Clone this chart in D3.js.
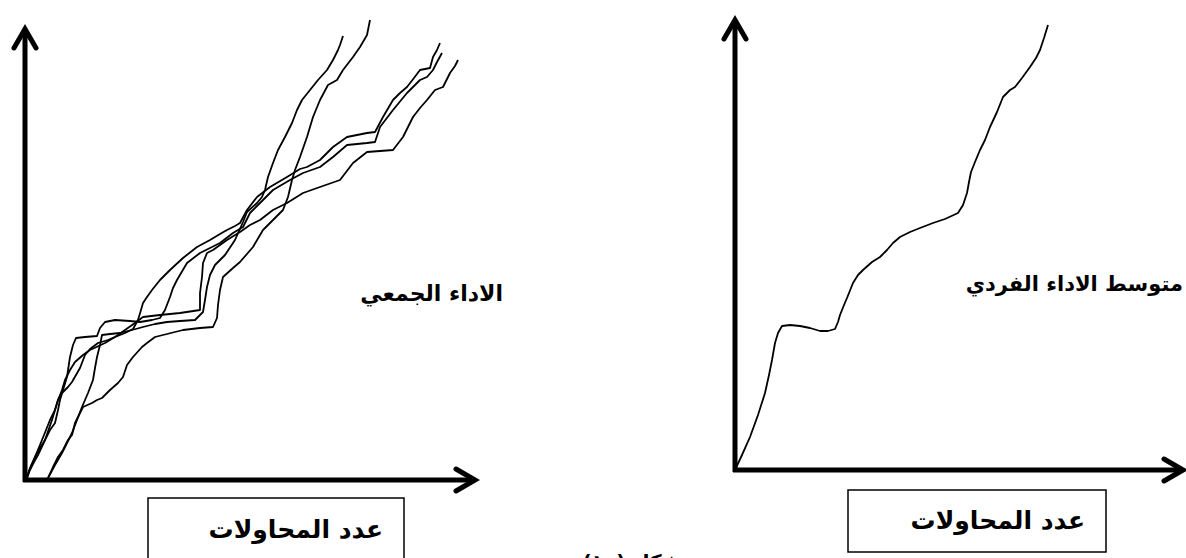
<!DOCTYPE html>
<html lang="ar">
<head>
<meta charset="utf-8">
<script src="https://cdn.jsdelivr.net/npm/d3@7/dist/d3.min.js"></script>
<style>
  html, body { margin: 0; padding: 0; background: #fff; }
  svg { display: block; }
  text { font-family: "DejaVu Sans", sans-serif; font-weight: bold; fill: #000; }
</style>
</head>
<body>
<svg id="chart" width="1186" height="558"></svg>
<script>
// ---- Data (arbitrary units: trials on x, performance on y) ----
const groupTitle = "الاداء الجمعي";
const individualTitle = "متوسط الاداء الفردي";
const xAxisLabel = "عدد المحاولات";
const figureCaption = "شكل (١٠)";

// Left panel: five individual learners' curves (group performance)
const groupSeriesA = [[23,2],[28,13],[33,23],[38,30],[43,40],[47,45],[50,57],[55,67],[58,73],[67,77],[72,80],[77,82],[85,90],[93,97],[98,103],[102,115],[108,123],[117,133],[122,137],[130,143],[138,145],[150,148],[158,150],[175,152],[188,153],[192,162],[193,175],[195,190],[198,203],[208,212],[215,218],[228,233],[238,250],[248,260],[258,270],[263,283],[267,300],[270,310],[275,323],[282,343],[288,363],[295,380],[303,395],[312,400],[318,410],[328,423],[335,433],[342,445],[345,460]];
const groupSeriesB = [[23,2],[30,15],[37,27],[42,37],[47,47],[52,60],[57,73],[63,87],[68,100],[70,112],[72,123],[75,135],[77,145],[85,146],[95,147],[107,150],[118,153],[130,156],[142,158],[155,159],[170,160],[178,168],[180,180],[182,193],[185,205],[190,215],[200,225],[210,240],[218,258],[222,268],[232,277],[237,283],[240,290],[243,303],[248,317],[253,330],[260,343],[267,357],[272,370],[277,380],[285,390],[293,400],[302,410],[308,420],[313,430],[315,435],[318,444]];
const groupSeriesC = [[2,2],[5,10],[9,18],[13,25],[20,40],[27,60],[33,80],[37,87],[43,93],[47,98],[51,105],[55,112],[60,125],[65,131],[73,137],[83,140],[90,143],[100,147],[108,151],[113,160],[116,170],[118,177],[122,183],[127,190],[135,200],[145,210],[158,222],[172,233],[185,240],[195,246],[202,250],[210,254],[215,257],[222,270],[232,283],[245,293],[262,303],[275,311],[282,313],[295,320],[308,333],[322,343],[342,347],[350,348],[358,363],[368,380],[375,387],[382,393],[389,402],[395,410],[405,412],[408,423],[412,430],[415,437]];
const groupSeriesD = [[2,4],[6,14],[10,23],[15,32],[20,40],[25,50],[30,57],[33,70],[35,80],[38,90],[42,103],[45,123],[48,135],[51,142],[60,143],[72,144],[75,152],[80,158],[90,160],[105,159],[115,158],[127,160],[135,162],[140,170],[145,183],[148,192],[152,200],[162,217],[175,227],[195,237],[208,247],[218,253],[225,267],[235,277],[248,290],[265,300],[278,307],[295,313],[308,323],[322,335],[342,337],[350,338],[355,353],[368,370],[382,387],[395,400],[402,403],[408,410],[412,418],[417,427]];
const groupSeriesE = [[2,2],[5,12],[10,23],[17,40],[25,60],[30,70],[33,80],[37,90],[40,100],[45,110],[50,118],[58,125],[65,130],[80,137],[90,143],[100,150],[110,157],[118,163],[135,165],[155,167],[175,170],[175,187],[177,203],[178,217],[182,227],[188,230],[202,240],[215,248],[225,255],[235,260],[248,270],[262,277],[278,287],[295,293],[315,300],[328,317],[342,328],[368,330],[378,343],[388,363],[395,372],[402,380],[410,390],[418,393],[425,407],[430,414],[433,420]];

// Right panel: average individual performance
const individualMean = [[0,0],[7,15],[15,33],[23,55],[30,77],[34,95],[37,110],[40,127],[43,137],[47,144],[55,145],[65,144],[75,142],[85,139],[93,139],[100,141],[103,148],[105,155],[109,165],[112,172],[118,187],[123,195],[128,200],[137,208],[145,213],[152,220],[158,227],[165,233],[175,238],[185,242],[198,247],[210,251],[223,257],[228,265],[232,277],[234,288],[236,298],[240,308],[245,320],[250,330],[255,343],[262,358],[268,373],[275,380],[280,383],[287,392],[295,403],[301,412],[305,420],[309,432],[313,445]];

const leftXMax = 452, leftYMax = 453;
const rightXMax = 450, rightYMax = 452;

// ---- Drawing ----
const svg = d3.select("#chart");
svg.append("rect").attr("width", 1186).attr("height", 558).attr("fill", "#fff");

function rtlText(g, xRight, y, size, str) {
  return g.append("text").attr("x", xRight).attr("y", y)
    .attr("direction", "rtl").attr("text-anchor", "start")
    .attr("font-size", size).text(str);
}

function panel(cfg) {
  const x = d3.scaleLinear().domain([0, cfg.xMax]).range(cfg.xRange);
  const y = d3.scaleLinear().domain([0, cfg.yMax]).range(cfg.yRange);
  const g = svg.append("g");
  const line = d3.line().x(d => x(d[0])).y(d => y(d[1])).curve(d3.curveLinear);

  cfg.series.forEach(s => {
    g.append("path").datum(s).attr("d", line)
      .attr("fill", "none").attr("stroke", "#000")
      .attr("stroke-width", 1.8).attr("stroke-linejoin", "round");
  });

  const x0 = x(0), y0 = y(0), xt = x(cfg.xMax), yt = y(cfg.yMax);
  g.append("path").attr("d", `M${x0},${y0 + 2}V${yt + 4}`)
    .attr("stroke", "#000").attr("stroke-width", 5).attr("fill", "none");
  g.append("path").attr("d", `M${x0 - 2},${y0}H${xt - 4}`)
    .attr("stroke", "#000").attr("stroke-width", 5).attr("fill", "none");
  g.append("path").attr("d", `M${x0 - 11},${yt + 21}L${x0},${yt + 2}L${x0 + 11},${yt + 21}`)
    .attr("stroke", "#000").attr("stroke-width", 5).attr("fill", "none")
    .attr("stroke-linejoin", "miter").attr("stroke-linecap", "round");
  g.append("path").attr("d", `M${xt - 21},${y0 - 11}L${xt - 2},${y0}L${xt - 21},${y0 + 11}`)
    .attr("stroke", "#000").attr("stroke-width", 5).attr("fill", "none")
    .attr("stroke-linejoin", "miter").attr("stroke-linecap", "round");

  rtlText(g, cfg.titlePos[0], cfg.titlePos[1], cfg.titleSize, cfg.title);

  const b = cfg.box;
  g.append("rect").attr("x", b[0]).attr("y", b[1]).attr("width", b[2]).attr("height", b[3])
    .attr("fill", "none").attr("stroke", "#000").attr("stroke-width", 1.5);
  rtlText(g, b[0] + b[2] - 21, cfg.labelY, 25, xAxisLabel);
}

panel({
  xMax: leftXMax, yMax: leftYMax, xRange: [25, 477], yRange: [480, 27],
  series: [groupSeriesA, groupSeriesB, groupSeriesC, groupSeriesD, groupSeriesE],
  title: groupTitle, titlePos: [503, 301], titleSize: 22,
  box: [148, 498, 256, 70], labelY: 538
});

panel({
  xMax: rightXMax, yMax: rightYMax, xRange: [735, 1185], yRange: [470, 18],
  series: [individualMean],
  title: individualTitle, titlePos: [1183, 291], titleSize: 21,
  box: [848, 490, 258, 62], labelY: 529
});

svg.append("text").attr("x", 632).attr("y", 569)
  .attr("text-anchor", "middle").attr("direction", "rtl")
  .attr("font-size", 20).text(figureCaption);
</script>
</body>
</html>
